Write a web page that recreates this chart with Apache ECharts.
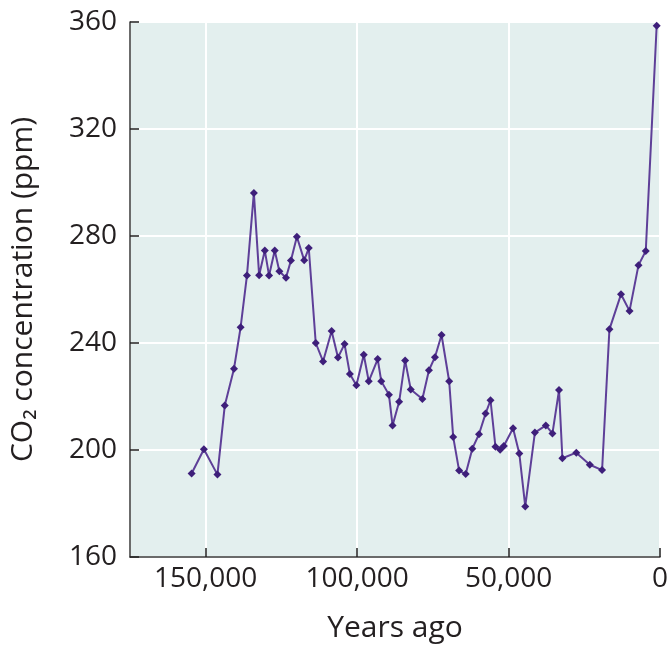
<!DOCTYPE html>
<html>
<head>
<meta charset="utf-8">
<script src="https://cdn.jsdelivr.net/npm/echarts@6/dist/echarts.min.js"></script>
<style>html,body{margin:0;padding:0;background:#fff}#c{width:672px;height:648px}</style>
</head>
<body>
<div id="c"></div>
<script>
// Years ago (x) and CO2 ppm (y)
const yearsAgo = [154660,150600,146130,143710,140660,138470,136390,134100,132360,130490,129080,127210,125680,123500,121870,119900,117480,115970,113670,111250,108430,106330,104160,102400,100250,97810,96170,93210,92030,89510,88300,86130,84160,82290,78460,76290,74320,72130,69610,68290,66330,64160,61970,59770,57600,55960,54330,52790,51580,48520,46460,44490,41310,37700,35510,33340,32230,27640,23180,19120,16700,12880,10060,7100,4700,1100];
const co2ppm = [191.2,200.3,190.8,216.6,230.4,245.9,265.2,296.1,265.3,274.6,265.2,274.6,266.8,264.4,270.8,279.7,270.9,275.5,240.0,233.1,244.5,234.6,239.6,228.4,224.2,235.6,225.7,234.0,225.7,220.7,209.2,218.0,233.5,222.6,219.1,229.8,234.7,243.0,225.7,204.9,192.3,191.0,200.5,205.9,213.6,218.6,201.2,200.1,201.5,208.1,198.7,178.9,206.5,209.2,206.2,222.4,196.9,199.0,194.5,192.5,245.1,258.2,252.0,269.1,274.4,358.6];
const yTicks = [160,200,240,280,320,360];
const xTicks = [150000,100000,50000,0];

const txt = '#231f20';
const font = '"Open Sans", "Noto Sans", sans-serif';
const fw = 500;
const chart = echarts.init(document.getElementById('c'));
chart.setOption({
  animation: false,
  backgroundColor: '#ffffff',
  grid: {left: 127, right: 12, top: 22, bottom: 88, show: true, backgroundColor: '#e3efee', borderWidth: 0},
  xAxis: {
    type: 'value', inverse: true, min: 0, max: 175000, interval: 50000,
    name: 'Years ago', nameLocation: 'middle', nameGap: 56,
    nameTextStyle: {color: txt, fontSize: 30, fontFamily: font, fontWeight: fw},
    axisLine: {show: true, onZero: false, lineStyle: {color: '#3a3a3a', width: 1.5}},
    axisTick: {show: true, inside: true, length: 9, lineStyle: {color: '#222', width: 1.5}},
    axisLabel: {color: txt, fontSize: 28, fontFamily: font, fontWeight: fw, margin: 8, showMaxLabel: false,
      formatter: v => xTicks.includes(v) ? v.toLocaleString('en-US') : ''},
    splitLine: {show: true, lineStyle: {color: '#ffffff', width: 2}}
  },
  yAxis: {
    type: 'value', min: 160, max: 360, interval: 40,
    name: 'CO₂ concentration (ppm)', nameLocation: 'middle', nameGap: 92,
    nameTextStyle: {color: txt, fontSize: 30, fontFamily: font, fontWeight: fw},
    axisLine: {show: true, onZero: false, lineStyle: {color: '#3a3a3a', width: 1.5}},
    axisTick: {show: true, inside: true, length: 9, lineStyle: {color: '#222', width: 1.5}},
    axisLabel: {color: txt, fontSize: 28, fontFamily: font, fontWeight: fw, margin: 13,
      formatter: v => yTicks.includes(v) ? String(v) : ''},
    splitLine: {show: true, lineStyle: {color: '#ffffff', width: 2}}
  },
  series: [{
    type: 'line',
    data: yearsAgo.map((x, i) => [x, co2ppm[i]]),
    symbol: 'diamond', symbolSize: 8, showAllSymbol: true,
    itemStyle: {color: '#3e1f7a'},
    lineStyle: {color: '#5e3f98', width: 2}
  }]
});
</script>
</body>
</html>
